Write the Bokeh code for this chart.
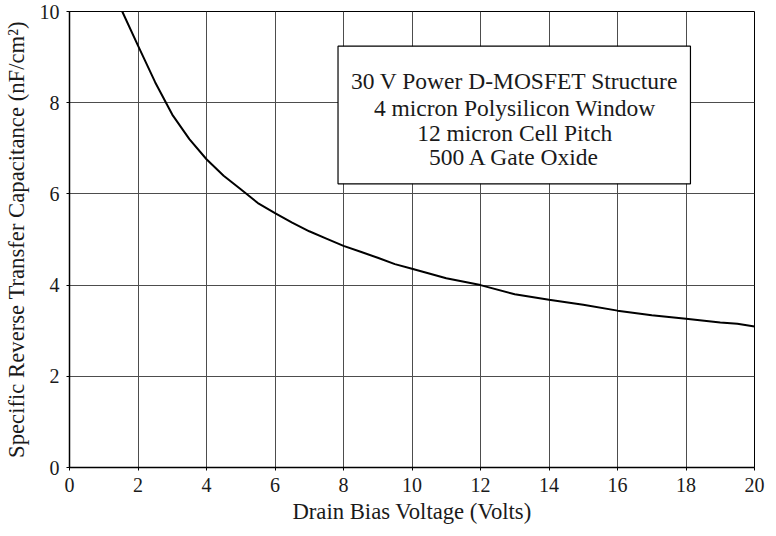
from bokeh.plotting import figure
from bokeh.models import Range1d, FixedTicker, BoxAnnotation, Label
from bokeh.embed import file_html
from bokeh.resources import INLINE

# Data
drain_voltage = [1.54, 2.0, 2.5, 3.0, 3.5, 4.0, 4.5, 5.0, 5.5, 6.0, 6.5, 7.0, 7.5,
                 8.0, 8.5, 9.0, 9.5, 10.0, 11.0, 12.0, 13.0, 14.0, 15.0, 16.0,
                 17.0, 18.0, 19.0, 19.5, 20.0]
capacitance = [10.0, 9.25, 8.45, 7.74, 7.20, 6.76, 6.40, 6.10, 5.80, 5.58, 5.37,
               5.18, 5.02, 4.86, 4.73, 4.60, 4.46, 4.36, 4.15, 4.00, 3.80, 3.68,
               3.57, 3.44, 3.34, 3.26, 3.18, 3.15, 3.09]
x_ticks = [0, 2, 4, 6, 8, 10, 12, 14, 16, 18, 20]
y_ticks = [0, 2, 4, 6, 8, 10]
info_lines = ["30 V Power D-MOSFET Structure",
              "4 micron Polysilicon Window",
              "12 micron Cell Pitch",
              "500 A Gate Oxide"]

FONT = "Liberation Serif"

p = figure(width=768, height=528, output_backend="svg", toolbar_location=None,
           x_range=Range1d(0, 20), y_range=Range1d(0, 10),
           min_border_left=65, min_border_right=14, min_border_top=11,
           min_border_bottom=61)

p.background_fill_color = "white"
p.border_fill_color = "white"
p.outline_line_color = "black"
p.outline_line_width = 1

for ax in (p.xaxis[0], p.yaxis[0]):
    ax.major_label_text_font = FONT
    ax.major_label_text_font_size = "20px"
    ax.major_label_text_color = "#1a1a1a"
    ax.axis_label_text_font = FONT
    ax.axis_label_text_font_size = "22.7px"
    ax.axis_label_text_font_style = "normal"
    ax.axis_label_text_color = "#1a1a1a"
    ax.axis_line_color = "black"
    ax.axis_line_width = 1.5
    ax.major_tick_line_color = "black"
    ax.major_tick_out = 3
    ax.major_tick_in = 0
    ax.minor_tick_line_color = None
    ax.major_label_standoff = 7

p.xaxis.ticker = FixedTicker(ticks=x_ticks)
p.yaxis.ticker = FixedTicker(ticks=y_ticks)
p.xaxis.axis_label = "Drain Bias Voltage (Volts)"
p.yaxis.axis_label = "Specific Reverse Transfer Capacitance (nF/cm²)"
p.xaxis.axis_label_standoff = 4
p.yaxis.axis_label_standoff = 8

p.xgrid.ticker = FixedTicker(ticks=x_ticks)
p.ygrid.ticker = FixedTicker(ticks=y_ticks)
p.grid.grid_line_color = "#4d4d4d"
p.grid.grid_line_width = 1

p.line(drain_voltage, capacitance, line_color="black", line_width=2)

box = BoxAnnotation(left=7.84, right=18.13, bottom=6.22, top=9.24,
                    fill_color="white", fill_alpha=1.0,
                    line_color="black", line_alpha=1.0, line_width=1.2)
p.add_layout(box)

line_y = [8.47, 7.88, 7.34, 6.80]
for txt, yy in zip(info_lines, line_y):
    p.add_layout(Label(x=13.0, y=yy, text=txt, text_align="center",
                       text_baseline="middle", text_font=FONT,
                       text_font_size="23.5px", text_color="#1a1a1a"))

open("out.html", "w").write(file_html(p, INLINE))
